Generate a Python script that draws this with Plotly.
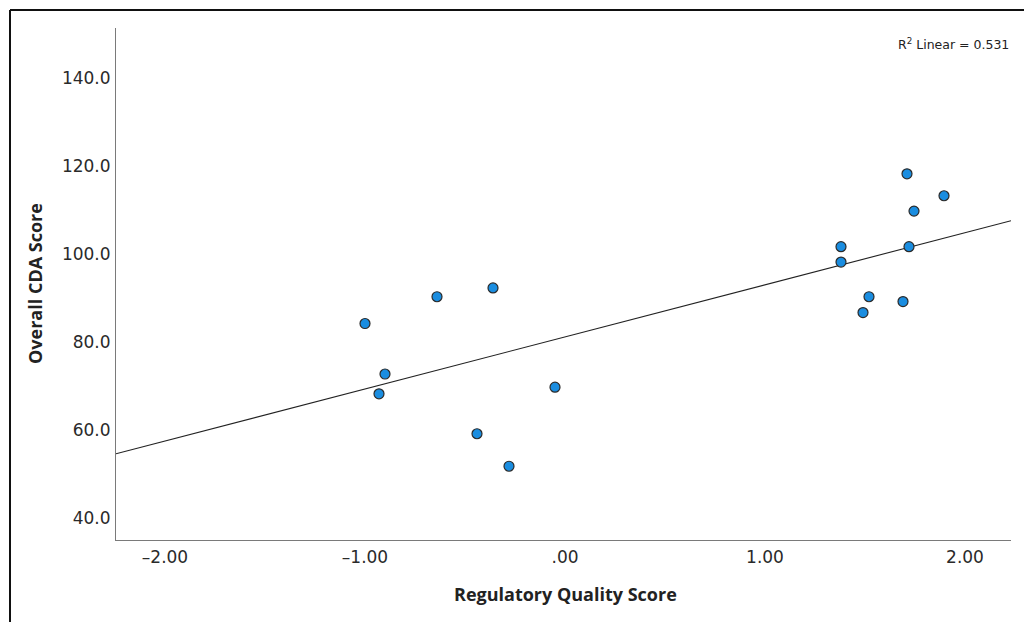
import numpy as np
import plotly.graph_objects as go

# Data
reg_quality = [-1.00, -0.90, -0.93, -0.64, -0.36, -0.44, -0.28, -0.05,
               1.38, 1.38, 1.49, 1.52, 1.69, 1.71, 1.72, 1.745, 1.895]
cda_score = [84.2, 72.7, 68.2, 90.3, 92.3, 59.1, 51.7, 69.7,
             101.7, 98.2, 86.7, 90.3, 89.2, 118.3, 101.7, 109.8, 113.3]
x_ticks = [-2, -1, 0, 1, 2]
x_tick_labels = ["\u20132.00", "\u20131.00", ".00", "1.00", "2.00"]
y_ticks = [40, 60, 80, 100, 120, 140]
y_tick_labels = ["40.0", "60.0", "80.0", "100.0", "120.0", "140.0"]
r2_text = "R<sup>2</sup> Linear = 0.531"

x_range = [-2.245, 2.23]
y_range = [34.9, 151.5]

slope, intercept = np.polyfit(reg_quality, cda_score, 1)
line_x = np.array(x_range)
line_y = slope * line_x + intercept

fig = go.Figure()
fig.add_trace(go.Scatter(x=line_x, y=line_y, mode="lines",
                         line=dict(color="#222222", width=1.1),
                         hoverinfo="skip", showlegend=False))
fig.add_trace(go.Scatter(x=reg_quality, y=cda_score, mode="markers",
                         marker=dict(size=10, color="#1a8de0",
                                     line=dict(color="#2a2a2a", width=1.2)),
                         showlegend=False))

tick_font = dict(family="DejaVu Sans", size=17, color="#2a2a2a")
fig.update_xaxes(range=x_range, tickvals=x_ticks, ticktext=x_tick_labels,
                 showgrid=False, zeroline=False, showline=True,
                 linecolor="#7a7a7a", linewidth=1, ticks="",
                 tickfont=tick_font, ticklabelstandoff=2)
fig.update_yaxes(range=y_range, tickvals=y_ticks, ticktext=y_tick_labels,
                 showgrid=False, zeroline=False, showline=True,
                 linecolor="#7a7a7a", linewidth=1, ticks="",
                 tickfont=tick_font, ticklabelstandoff=1)

title_font = dict(family="Open Sans", size=18, color="#222222")
fig.add_annotation(text="<b>Regulatory Quality Score</b>", xref="paper", yref="paper",
                   x=(565 - 116) / 895, y=(540 - 594) / 512, xanchor="center", yanchor="middle",
                   showarrow=False, font=title_font)
fig.add_annotation(text="<b>Overall CDA Score</b>", xref="paper", yref="paper",
                   x=(35 - 116) / 895, y=0.5, xanchor="center", yanchor="middle",
                   textangle=-90, showarrow=False, font=title_font)
fig.add_annotation(text=r2_text, xref="paper", yref="paper",
                   x=(1011 - 116) / 895, y=(540 - 44) / 512, xanchor="right", yanchor="middle",
                   showarrow=False, font=dict(family="DejaVu Sans", size=12.5, color="#222222"))

# Outer frame (left and top edges visible)
fig.add_shape(type="line", xref="paper", yref="paper",
              x0=(10 - 116) / 895, x1=(10 - 116) / 895, y0=(540 - 622) / 512, y1=(540 - 10) / 512,
              line=dict(color="#111111", width=2))
fig.add_shape(type="line", xref="paper", yref="paper",
              x0=(10 - 116) / 895, x1=(1024 - 116) / 895, y0=(540 - 10) / 512, y1=(540 - 10) / 512,
              line=dict(color="#111111", width=2))

fig.update_layout(width=1024, height=622,
                  margin=dict(l=116, r=13, t=28, b=82, autoexpand=False),
                  paper_bgcolor="white", plot_bgcolor="white")
fig.write_html("out.html", config={"displayModeBar": False},
               post_script="document.body.style.margin='0';")
